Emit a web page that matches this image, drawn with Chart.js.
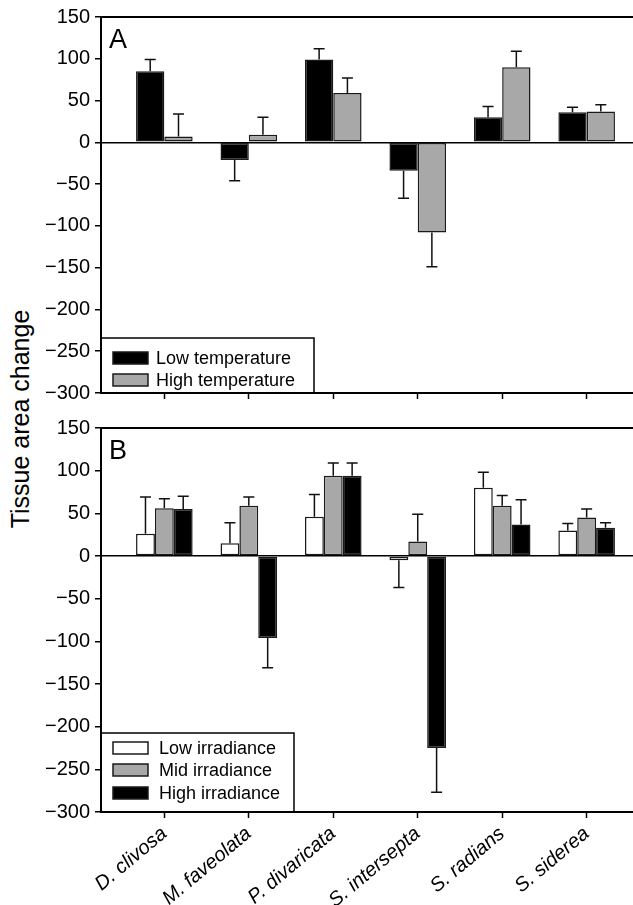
<!DOCTYPE html>
<html>
<head>
<meta charset="utf-8">
<script src="https://cdn.jsdelivr.net/npm/chart.js@4.4.1/dist/chart.umd.min.js"></script>
<style>
  body { margin: 0; background: #fff; overflow: hidden; }
  #wrap { position: relative; width: 633px; height: 905px; overflow: hidden; }
  canvas { position: absolute; left: 0; }
  .ytitle {
    position: absolute; left: 20px; top: 419px;
    transform: translate(-50%, -50%) rotate(-90deg);
    font: 25px "Liberation Sans", Arial, sans-serif; color: #000; white-space: nowrap;
  }
</style>
</head>
<body>
<div id="wrap">
  <div class="ytitle">Tissue area change</div>
  <canvas id="chartA" width="652" height="410" style="top:0"></canvas>
  <canvas id="chartB" width="652" height="495" style="top:410px"></canvas>
</div>
<script>
const categories = ['D. clivosa', 'M. faveolata', 'P. divaricata', 'S. intersepta', 'S. radians', 'S. siderea'];
const yTickValues = [150, 100, 50, 0, -50, -100, -150, -200, -250, -300];

// panel A - temperature
const lowTemp = [85, -21, 99, -34, 30, 36];
const lowTempErr = [14, 25, 13, 33, 13, 6];
const highTemp = [7, 9, 59, -108, 90, 37];
const highTempErr = [27, 21, 18, 41, 19, 8];

// panel B - irradiance
const lowIrr = [26, 15, 46, -5, 80, 30];
const lowIrrErr = [43, 24, 26, 32, 18, 8];
const midIrr = [56, 59, 94, 17, 59, 45];
const midIrrErr = [11, 10, 15, 32, 12, 10];
const highIrr = [55, -96, 94, -225, 37, 33];
const highIrrErr = [15, 35, 15, 52, 29, 6];

const FONT = '"Liberation Sans", Arial, sans-serif';
const BLACK = '#000000', GREY = '#a8a8a8', WHITE = '#ffffff', EDGE = '#1a1a1a';

function series(label, values, errors, color){
    return {
        label: label,
        data: values.map((v, i) => ({x: i + 1, y: v})),
        errors: errors,
        backgroundColor: color,
        borderColor: EDGE,
        borderWidth: 1.5,
        borderSkipped: false,
        categoryPercentage: 0.67,
        barPercentage: 1
    };
}

const PanelDecor = {
    id: 'panelDecor',
    afterDatasetsDraw(chart, args, opts){
        const {ctx, chartArea, scales} = chart;
        const y = scales.y;
        ctx.save();
        // error bars, one sided
        ctx.strokeStyle = '#111';
        ctx.lineWidth = 1.5;
        chart.data.datasets.forEach((ds, i) => {
            const meta = chart.getDatasetMeta(i);
            meta.data.forEach((bar, j) => {
                const v = ds.data[j].y;
                const e = ds.errors[j];
                const end = y.getPixelForValue(v < 0 ? v - e : v + e);
                ctx.beginPath();
                ctx.moveTo(bar.x, bar.y);
                ctx.lineTo(bar.x, end);
                ctx.moveTo(bar.x - 5.5, end);
                ctx.lineTo(bar.x + 5.5, end);
                ctx.stroke();
            });
        });

        // legend box in lower left corner
        const lg = opts.legend;
        ctx.fillStyle = '#fff';
        ctx.fillRect(chartArea.left, lg.top, lg.right - chartArea.left, chartArea.bottom - lg.top);
        ctx.lineWidth = 1.5;
        ctx.strokeStyle = '#000';
        ctx.strokeRect(chartArea.left, lg.top, lg.right - chartArea.left, chartArea.bottom - lg.top);
        ctx.font = '18px ' + FONT;
        ctx.textAlign = 'left';
        ctx.textBaseline = 'middle';
        chart.data.datasets.forEach((ds, i) => {
            const cy = lg.rows[i];
            ctx.fillStyle = ds.backgroundColor;
            ctx.fillRect(113, cy - 6, 35, 12);
            ctx.strokeStyle = EDGE;
            ctx.lineWidth = 1.5;
            ctx.strokeRect(113, cy - 6, 35, 12);
            ctx.fillStyle = '#000';
            ctx.fillText(ds.label, lg.textX, cy + 1);
        });

        // panel letter
        ctx.font = '27px ' + FONT;
        ctx.textBaseline = 'top';
        ctx.fillStyle = '#000';
        ctx.fillText(opts.letter, chartArea.left + 8, chartArea.top + 10);

        // frame
        ctx.lineWidth = 2;
        ctx.strokeStyle = '#000';
        ctx.strokeRect(chartArea.left, chartArea.top, chartArea.right - chartArea.left, chartArea.bottom - chartArea.top);
        ctx.restore();
    }
};

function makeChart(id, datasets, opts){
    return new Chart(document.getElementById(id), {
        type: 'bar',
        data: {datasets: datasets},
        options: {
            responsive: false,
            animation: false,
            devicePixelRatio: 1,
            layout: {padding: {top: opts.padTop, left: 0, right: 2, bottom: 0}},
            plugins: {
                legend: {display: false},
                tooltip: {enabled: false},
                panelDecor: {letter: opts.letter, legend: opts.legend}
            },
            scales: {
                x: {
                    type: 'linear',
                    min: 0.25,
                    max: 6.75,
                    offset: false,
                    afterBuildTicks: (scale) => {
                        scale.ticks = categories.map((c, i) => ({value: i + 1}));
                    },
                    afterFit: (scale) => { scale.height = opts.xHeight; },
                    border: {display: false},
                    grid: {
                        offset: false,
                        drawOnChartArea: false,
                        drawTicks: true,
                        tickLength: 6,
                        tickColor: '#000',
                        tickWidth: 1.5
                    },
                    ticks: {
                        display: opts.showLabels,
                        autoSkip: false,
                        minRotation: 40,
                        maxRotation: 40,
                        padding: 4,
                        color: '#000',
                        font: {family: FONT, size: 20, style: 'italic'},
                        callback: (value) => categories[value - 1]
                    }
                },
                y: {
                    min: -300,
                    max: 150,
                    afterBuildTicks: (scale) => {
                        scale.ticks = yTickValues.map(v => ({value: v}));
                    },
                    afterFit: (scale) => { scale.width = 101; },
                    border: {display: false},
                    grid: {
                        drawOnChartArea: true,
                        color: (c) => (c.tick && c.tick.value === 0) ? '#000' : 'rgba(0,0,0,0)',
                        lineWidth: 1.5,
                        tickLength: 6,
                        tickColor: '#000',
                        tickWidth: 1.5
                    },
                    ticks: {
                        padding: 5,
                        color: '#000',
                        font: {family: FONT, size: 20},
                        callback: (v) => String(v).replace('-', '\u2212')
                    }
                }
            }
        },
        plugins: [PanelDecor]
    });
}

makeChart('chartA', [
    series('Low temperature', lowTemp, lowTempErr, BLACK),
    series('High temperature', highTemp, highTempErr, GREY)
], {
    letter: 'A', padTop: 15, xHeight: 13, showLabels: false,
    legend: {top: 338, right: 314, textX: 156, rows: [358, 380]}
});

makeChart('chartB', [
    series('Low irradiance', lowIrr, lowIrrErr, WHITE),
    series('Mid irradiance', midIrr, midIrrErr, GREY),
    series('High irradiance', highIrr, highIrrErr, BLACK)
], {
    letter: 'B', padTop: 18, xHeight: 93, showLabels: true,
    legend: {top: 323, right: 294, textX: 159, rows: [338, 360, 383]}
});
</script>
</body>
</html>
